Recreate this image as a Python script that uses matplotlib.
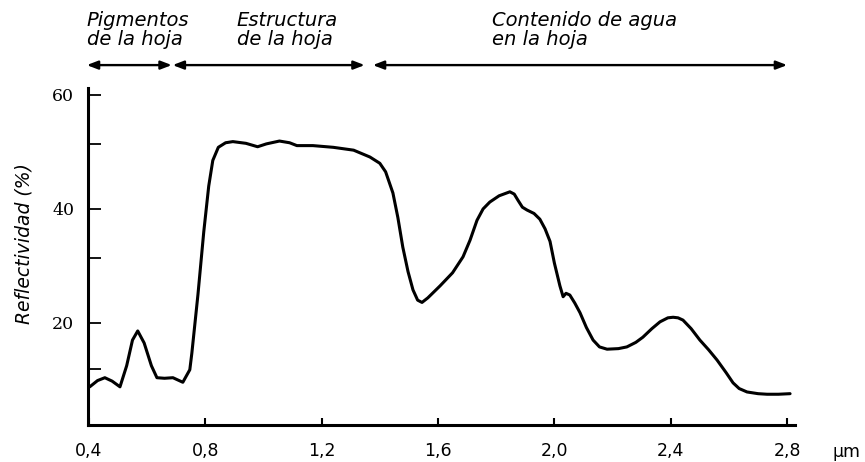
import matplotlib.pyplot as plt
from matplotlib.transforms import blended_transform_factory

# espectro de reflectividad de una hoja verde
wavelength = [0.403, 0.430, 0.455, 0.480, 0.507, 0.530, 0.550, 0.568, 0.590, 0.615,
              0.634, 0.660, 0.689, 0.723, 0.747, 0.754, 0.775, 0.795, 0.812, 0.826,
              0.845, 0.870, 0.895, 0.940, 0.980, 1.010, 1.055, 1.090, 1.115, 1.170,
              1.240, 1.310, 1.366, 1.400, 1.420, 1.445, 1.462, 1.479, 1.497, 1.514,
              1.530, 1.545, 1.565, 1.607, 1.650, 1.686, 1.710, 1.734, 1.755, 1.778,
              1.810, 1.847, 1.862, 1.875, 1.890, 1.906, 1.930, 1.950, 1.968, 1.985,
              2.000, 2.019, 2.030, 2.040, 2.053, 2.070, 2.088, 2.110, 2.133, 2.155,
              2.181, 2.220, 2.249, 2.280, 2.304, 2.335, 2.363, 2.390, 2.408, 2.425,
              2.442, 2.470, 2.500, 2.530, 2.559, 2.590, 2.614, 2.635, 2.662, 2.700,
              2.731, 2.770, 2.810]
reflectance = [8.8, 9.9, 10.4, 9.8, 8.8, 12.5, 17.0, 18.6, 16.5, 12.5,
               10.4, 10.3, 10.4, 9.6, 11.8, 14.7, 25.0, 36.0, 44.0, 48.5,
               50.8, 51.6, 51.8, 51.5, 50.9, 51.4, 51.9, 51.6, 51.1, 51.1,
               50.8, 50.3, 49.1, 48.0, 46.5, 42.8, 38.5, 33.3, 29.0, 25.8,
               24.0, 23.6, 24.4, 26.5, 28.8, 31.6, 34.5, 38.0, 40.0, 41.2,
               42.3, 43.0, 42.6, 41.5, 40.3, 39.8, 39.2, 38.2, 36.5, 34.3,
               30.5, 26.5, 24.6, 25.2, 24.9, 23.5, 21.8, 19.2, 17.0, 15.8,
               15.4, 15.5, 15.8, 16.6, 17.5, 19.0, 20.2, 20.9, 21.0, 20.9,
               20.5, 19.0, 17.0, 15.3, 13.5, 11.3, 9.5, 8.5, 7.9, 7.6,
               7.5, 7.5, 7.6]

x_ticks = [0.4, 0.8, 1.2, 1.6, 2.0, 2.4, 2.8]
x_tick_labels = ["0,4", "0,8", "1,2", "1,6", "2,0", "2,4", "2,8"]
y_ticks = [20, 40, 60]
y_minor_ticks = [11.9, 31.4, 51.4]

region_labels = ["Pigmentos\nde la hoja", "Estructura\nde la hoja", "Contenido de agua\nen la hoja"]
region_spans = [(0.393, 0.685), (0.688, 1.348), (1.376, 2.800)]
region_text_x = [0.393, 0.909, 1.785]

fig = plt.figure(figsize=(8.65, 4.62), dpi=100)
ax = fig.add_axes([0.1017, 0.080, 0.8174, 0.7295])

ax.plot(wavelength, reflectance, color="black", lw=2.2, solid_capstyle="round")

ax.set_xlim(0.397, 2.827)
ax.set_ylim(2.1, 61.2)

for side in ["top", "right"]:
    ax.spines[side].set_visible(False)
for side in ["left", "bottom"]:
    ax.spines[side].set_linewidth(2.2)

ax.set_xticks(x_ticks)
ax.set_xticklabels(x_tick_labels, family="DejaVu Sans", fontsize=12.5)
ax.set_yticks(y_ticks)
ax.set_yticks(y_minor_ticks, minor=True)
ax.set_yticklabels([str(v) for v in y_ticks], family="DejaVu Serif", fontsize=12.5)
ax.tick_params(axis="x", direction="in", length=5, width=1.5, pad=12.5)
ax.tick_params(axis="y", which="both", direction="in", length=9.5, width=1.3, pad=10)

ax.set_ylabel("Reflectividad (%)", family="DejaVu Sans", style="italic", fontsize=13.5)
ax.yaxis.set_label_coords(-0.077, 0.54)

fig.text(846 / 865, 1 - 452 / 462, "µm", family="DejaVu Sans", fontsize=12.5,
         ha="center", va="center")

# flechas y textos de las regiones
trans = blended_transform_factory(ax.transData, ax.transAxes)
for (x0, x1), label, tx in zip(region_spans, region_labels, region_text_x):
    ax.annotate("", xy=(x1, 1.068), xytext=(x0, 1.068), xycoords=trans, textcoords=trans,
                arrowprops=dict(arrowstyle="<|-|>,head_length=0.65,head_width=0.25",
                                color="black", lw=1.7, shrinkA=0, shrinkB=0),
                annotation_clip=False)
    ax.text(tx, 1.172, label, transform=trans, ha="left", va="center",
            family="DejaVu Sans", style="italic", fontsize=14, linespacing=1.0)

fig.savefig("out.png", dpi=100)
